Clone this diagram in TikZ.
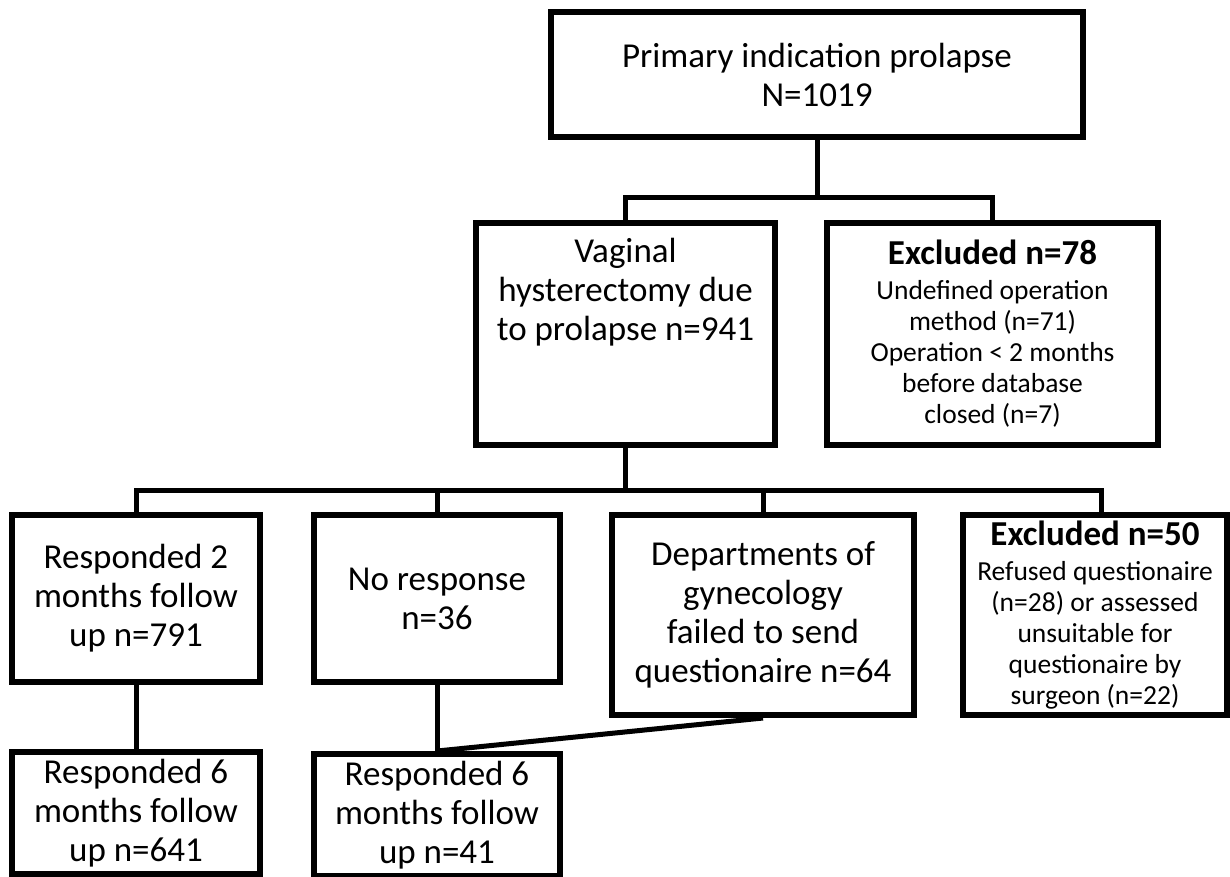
\documentclass[tikz,border=0pt]{standalone}
\usepackage{fontspec}
\setmainfont{Carlito}
\usetikzlibrary{positioning}
\newcommand{\bigtxt}{\fontsize{35}{39}\selectfont}
\newcommand{\smalltxt}{\fontsize{27.5}{31}\selectfont}
\tikzset{
  box/.style={draw, line width=6pt, inner sep=0pt, align=center, font=\bigtxt},
  exbox/.style={box, font=\smalltxt},
  txt/.style={inner sep=0pt, align=center, font=\bigtxt},
  link/.style={line width=5pt}
}

\begin{document}
\begin{tikzpicture}[x=1pt,y=-1pt]
\useasboundingbox (0,0) rectangle (1230,876);
\fill[white] (0,0) rectangle (1230,876);
\clip (0,0) rectangle (1230,876);

\node (top) at (817,74.5) [box, minimum width=532pt, minimum height=125pt] {Primary indication prolapse\\ N=1019};

\node (vag) at (625.5,334) [box, minimum width=299pt, minimum height=222pt] {};
\node (vagtxt) [txt, below=18pt of vag.north] {Vaginal\\ hysterectomy due\\ to prolapse n=941};
\node (ex78) at (992.5,334) [exbox, minimum width=331pt, minimum height=222pt] {{\bigtxt\bfseries Excluded n=78}\\[4pt] Undefined operation\\ method (n=71)\\ Operation < 2 months\\ before database\\ closed (n=7)};

\node (r2) at (136,598.5) [box, minimum width=248pt, minimum height=167pt] {Responded 2\\ months follow\\ up n=791};
\node (nores) at (437,598.5) [box, minimum width=246pt, minimum height=167pt] {No response\\ n=36};
\node (dept) at (763,615) [box, minimum width=302pt, minimum height=200pt] {Departments of\\ gynecology\\ failed to send\\ questionaire n=64};
\node (ex50) at (1095,615) [exbox, minimum width=264pt, minimum height=200pt] {{\bigtxt\bfseries Excluded n=50}\\[4pt] Refused questionaire\\ (n=28) or assessed\\ unsuitable for\\ questionaire by\\ surgeon (n=22)};

\node (r6a) at (136,813) [box, minimum width=248pt, minimum height=122pt] {Responded 6\\ months follow\\ up n=641};
\node (r6b) at (437,815) [box, minimum width=246pt, minimum height=122pt] {Responded 6\\ months follow\\ up n=41};

% branch points
\coordinate (j1) at (817,197);
\coordinate (j2) at (625.5,490.5);

\draw[link] (top) -- (j1);
\draw[link] (vag.north) |- (j1) -| (ex78.north);
\draw[link] (vag) -- (j2);
\draw[link] (r2.north) |- (j2) -| ([xshift=6pt]ex50.north);
\foreach \n in {nores,dept}{
\draw[link] (\n.north) -- (\n.north |- j2);
}
\draw[link] (r2) -- (r6a);
\draw[link] (nores) -- (r6b);
\draw[link] (dept.south) -- (r6b.north);
\end{tikzpicture}
\end{document}
